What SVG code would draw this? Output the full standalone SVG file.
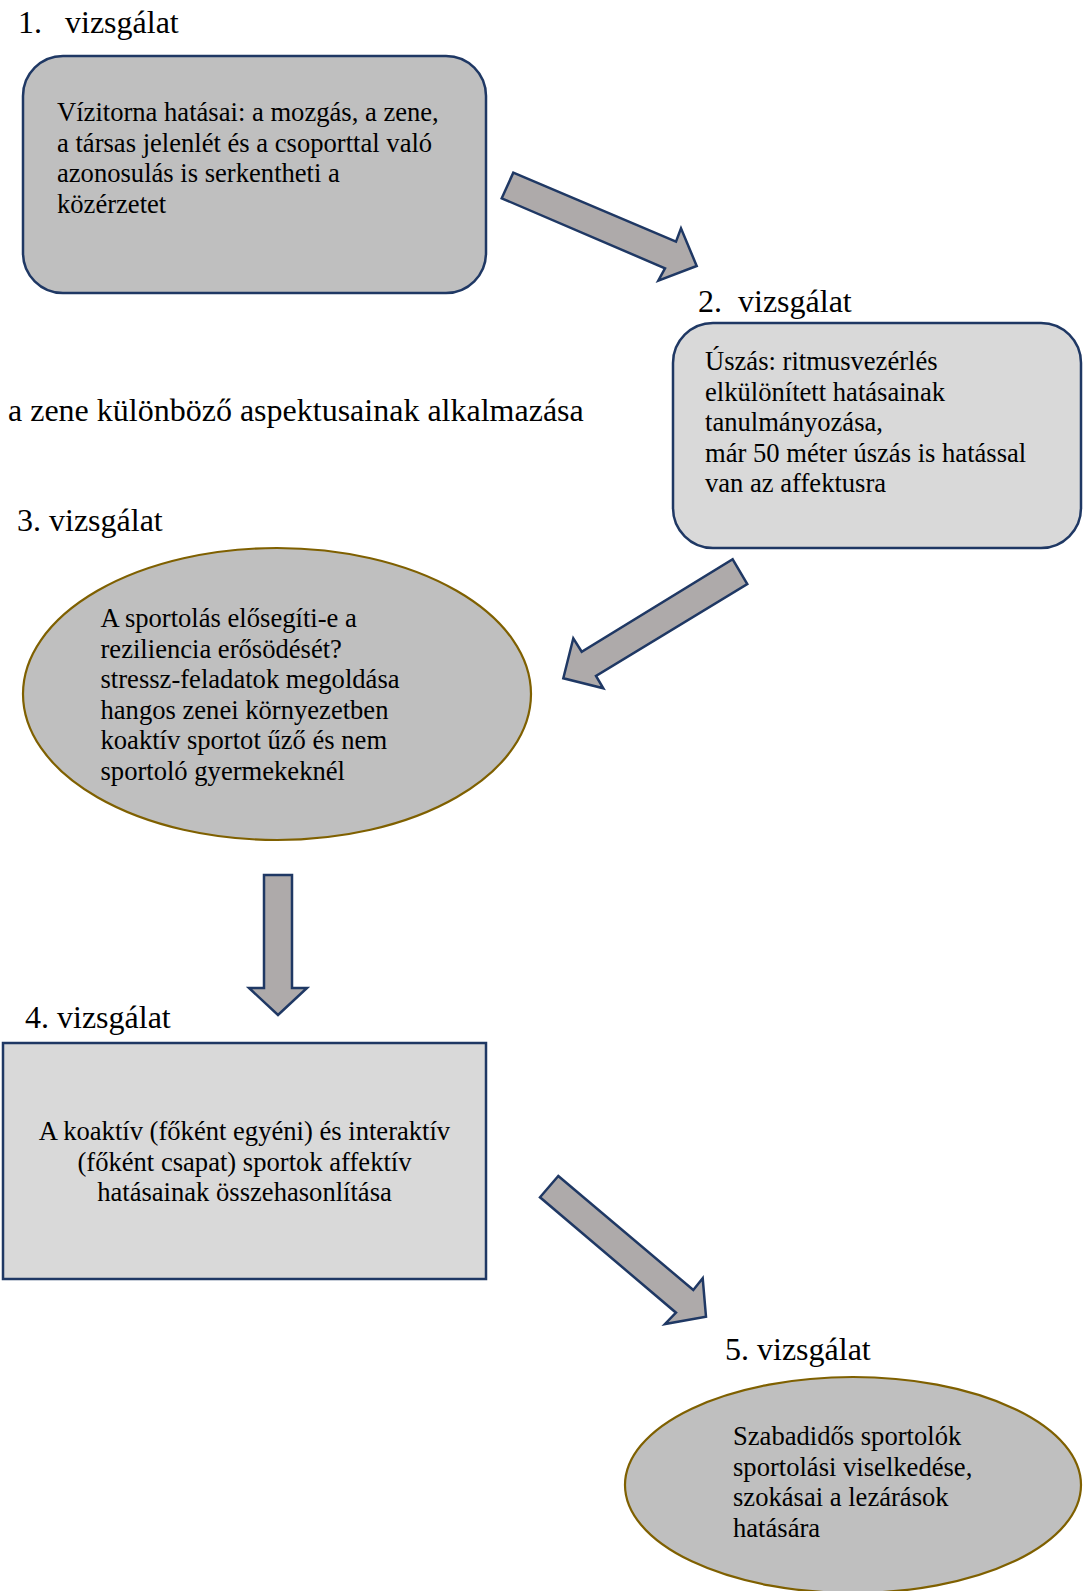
<svg xmlns="http://www.w3.org/2000/svg" width="1083" height="1591" viewBox="0 0 1083 1591">
<style>
text{font-family:"Liberation Serif","Times New Roman",serif;fill:#000}
.lbl{font-size:32px}
.body{font-size:26.6px}
.rbox{stroke:#1f3864;stroke-width:2.5}
.ell{stroke:#7f6000;stroke-width:2.2}
.arrow{fill:#aeaaaa;stroke:#1f3864;stroke-width:2.5;stroke-linejoin:miter}
.dark{fill:#bfbfbf}
.light{fill:#d9d9d9}
</style>
<rect width="1083" height="1591" fill="#fff"/>
<g id="node1">
<text class="lbl" y="33"><tspan x="18">1.</tspan><tspan x="65">vizsgálat</tspan></text>
<rect class="rbox dark" x="23" y="56" width="463" height="237" rx="40" ry="40"/>
<text class="body"><tspan x="57" y="121">Vízitorna hatásai: a mozgás, a zene,</tspan><tspan x="57" y="151.5">a társas jelenlét és a csoporttal való</tspan><tspan x="57" y="182">azonosulás is serkentheti a</tspan><tspan x="57" y="212.5">közérzetet</tspan></text>
</g>
<g id="node2">
<text class="lbl" y="312"><tspan x="698">2.</tspan><tspan x="738">vizsgálat</tspan></text>
<rect class="rbox light" x="673" y="323" width="408" height="225" rx="40" ry="40"/>
<text class="body"><tspan x="705" y="370">Úszás: ritmusvezérlés</tspan><tspan x="705" y="400.5">elkülönített hatásainak</tspan><tspan x="705" y="431">tanulmányozása,</tspan><tspan x="705" y="461.5">már 50 méter úszás is hatással</tspan><tspan x="705" y="492">van az affektusra</tspan></text>
</g>
<g id="note">
<text class="lbl" x="8" y="421">a zene különböző aspektusainak alkalmazása</text>
</g>
<g id="node3">
<text class="lbl" x="17" y="531">3. vizsgálat</text>
<ellipse class="ell dark" cx="277" cy="694" rx="254" ry="146"/>
<text class="body"><tspan x="100.5" y="627">A sportolás elősegíti-e a</tspan><tspan x="100.5" y="657.5">reziliencia erősödését?</tspan><tspan x="100.5" y="688">stressz-feladatok megoldása</tspan><tspan x="100.5" y="718.5">hangos zenei környezetben</tspan><tspan x="100.5" y="749">koaktív sportot űző és nem</tspan><tspan x="100.5" y="779.5">sportoló gyermekeknél</tspan></text>
</g>
<g id="node4">
<text class="lbl" x="25" y="1028">4. vizsgálat</text>
<rect class="rbox light" x="3" y="1043" width="483" height="236"/>
<text class="body" text-anchor="middle"><tspan x="244.5" y="1140">A koaktív (főként egyéni) és interaktív</tspan><tspan x="244.5" y="1170.5">(főként csapat) sportok affektív</tspan><tspan x="244.5" y="1201">hatásainak összehasonlítása</tspan></text>
</g>
<g id="node5">
<text class="lbl" x="725" y="1360">5. vizsgálat</text>
<ellipse class="ell dark" cx="853" cy="1485" rx="228" ry="108"/>
<text class="body"><tspan x="733" y="1445">Szabadidős sportolók</tspan><tspan x="733" y="1475.5">sportolási viselkedése,</tspan><tspan x="733" y="1506">szokásai a lezárások</tspan><tspan x="733" y="1536.5">hatására</tspan></text>
</g>
<g id="connectors">
<polygon class="arrow" points="513.3,172.7 676,241.7 681,228.3 696.7,266 658.3,280.7 665,268.3 501.7,198.3"/>
<polygon class="arrow" points="732.7,559.3 747.3,584 596,676 603.3,688.3 563.3,678.3 573.3,638.3 581.7,651.7"/>
<polygon class="arrow" points="264,875 292,875 292,988 307,988 278,1015 249,988 264,988"/>
<polygon class="arrow" points="558.3,1176 693.3,1290 702.7,1278.3 706,1316.7 665,1324 676,1312.7 540,1197.3"/>
</g>
</svg>
